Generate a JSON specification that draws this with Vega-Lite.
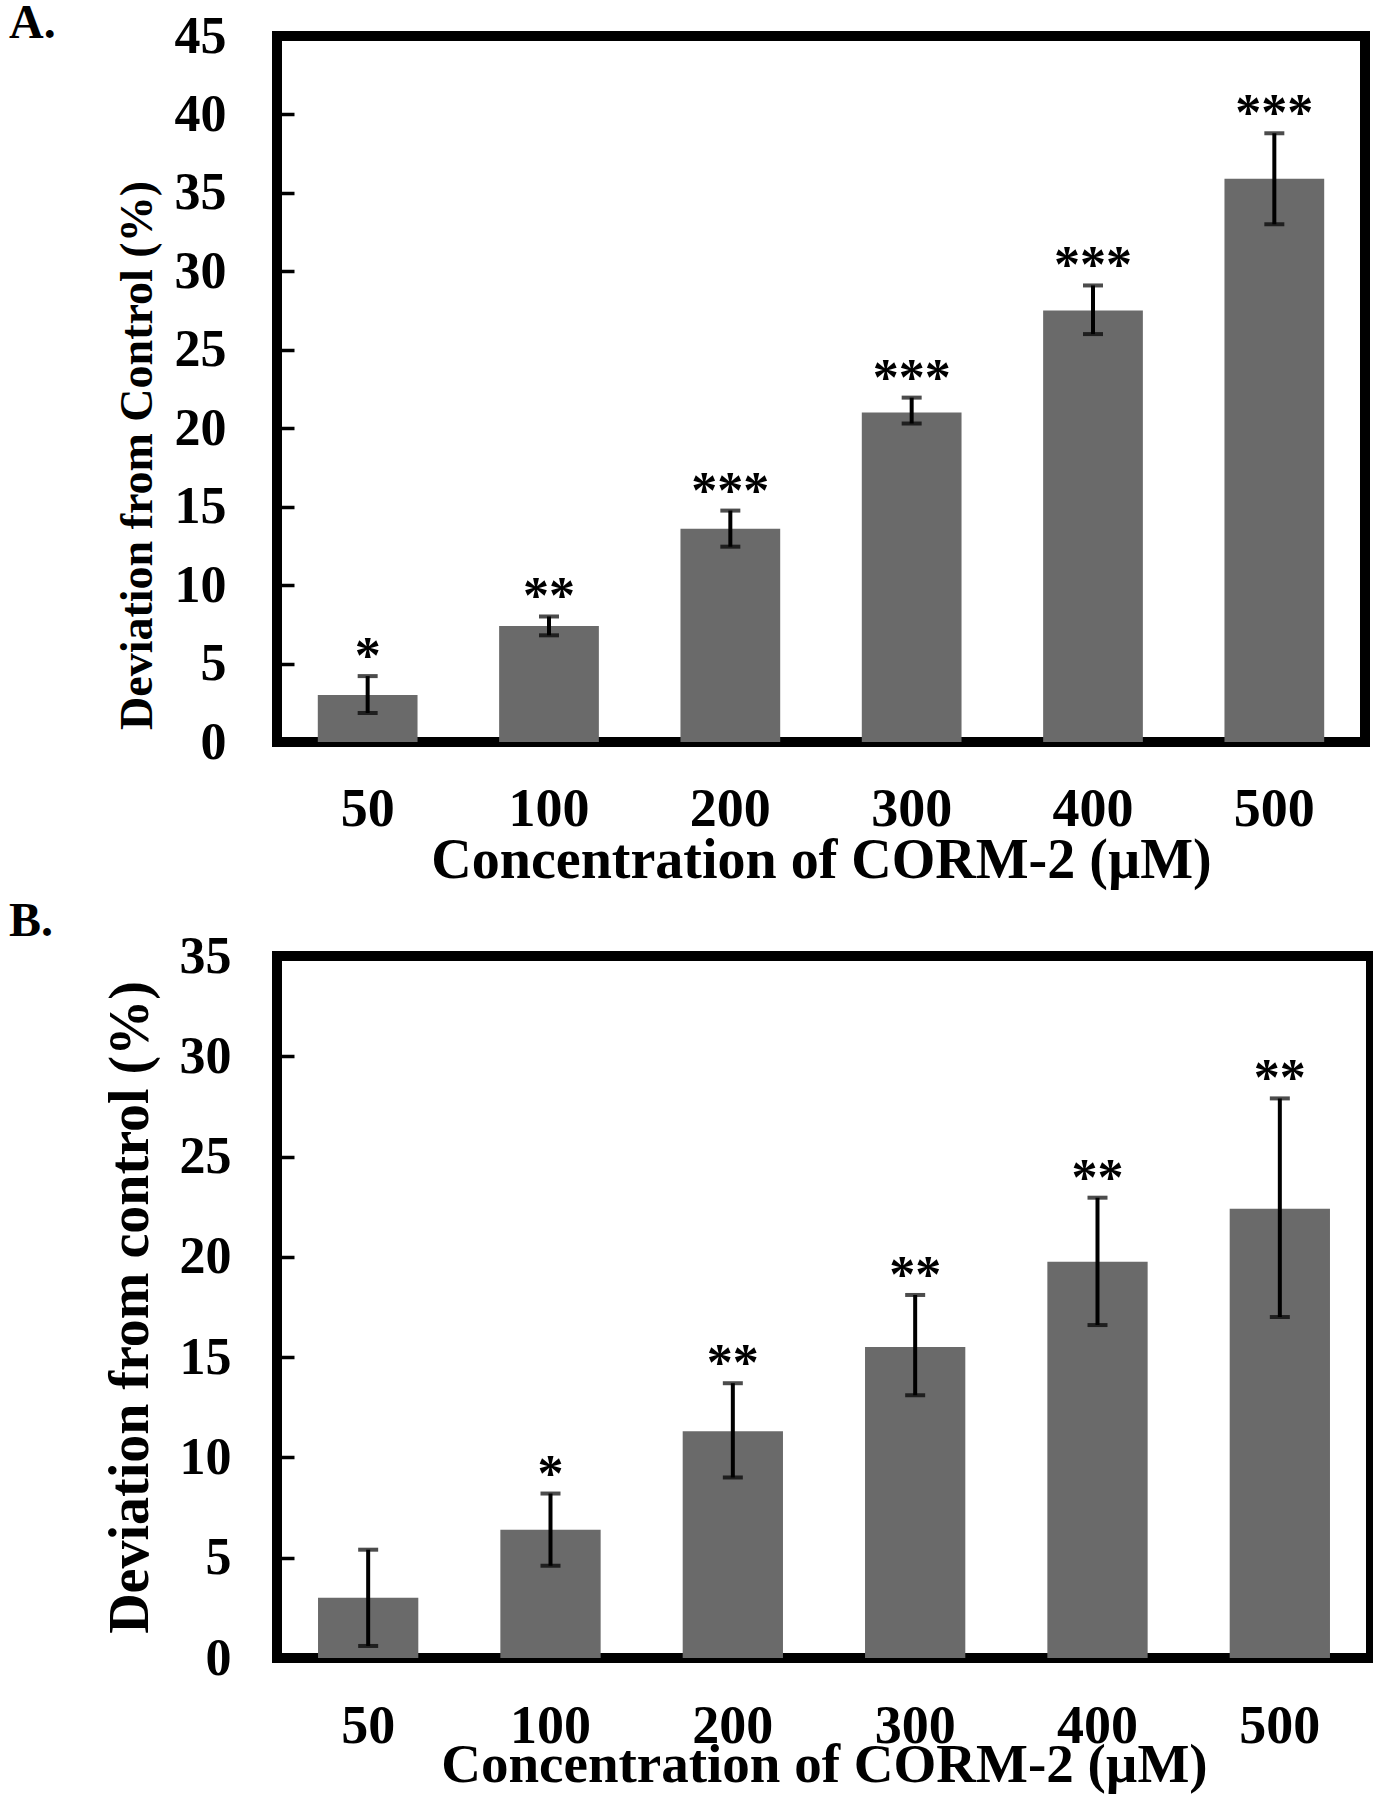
{
  "$schema": "https://vega.github.io/schema/vega-lite/v6.json",
  "background": "white",
  "padding": {"left": 4, "top": -5, "right": 0, "bottom": 0},
  "spacing": 0,
  "config": {
    "view": {"stroke": "black", "strokeWidth": 10},
    "font": "Liberation Serif",
    "axis": {
      "labelFont": "Liberation Serif", "titleFont": "Liberation Serif",
      "labelFontWeight": "bold", "titleFontWeight": "bold",
      "labelColor": "black", "titleColor": "black",
      "domain": false, "grid": false
    },
    "axisX": {"ticks": false, "tickSize": 0, "labelAngle": 0, "labelFontSize": 54, "labelBaseline": "alphabetic", "titleBaseline": "alphabetic"},
    "axisY": {"ticks": true, "offset": -17, "tickSize": 17, "tickWidth": 3.5, "tickColor": "black", "labelFontSize": 52, "titleBaseline": "middle"},
    "title": {"font": "Liberation Serif", "fontWeight": "bold", "color": "black", "fontSize": 48}
  },
  "vconcat": [
    {
      "width": 1088,
      "height": 706,
      "title": {"text": "A.", "anchor": "start", "frame": "group", "dx": -268, "offset": -76, "baseline": "alphabetic"},
      "data": {"values": [
        {"conc": 50, "mean": 3.0, "lo": 1.85, "hi": 4.2, "sig": "*"},
        {"conc": 100, "mean": 7.4, "lo": 6.8, "hi": 8.0, "sig": "**"},
        {"conc": 200, "mean": 13.6, "lo": 12.45, "hi": 14.75, "sig": "***"},
        {"conc": 300, "mean": 21.0, "lo": 20.3, "hi": 21.95, "sig": "***"},
        {"conc": 400, "mean": 27.5, "lo": 26.0, "hi": 29.1, "sig": "***"},
        {"conc": 500, "mean": 35.9, "lo": 33.0, "hi": 38.8, "sig": "***"}
      ]},
      "encoding": {
        "x": {"field": "conc", "type": "ordinal", "title": "Concentration of CORM-2 (µM)",
              "scale": {"paddingInner": 0.45, "paddingOuter": 0.225},
              "axis": {"labelPadding": 83, "titleY": 135, "titleFontSize": 56}}
      },
      "layer": [
        {
          "mark": {"type": "bar", "color": "#6a6a6a"},
          "encoding": {
            "y": {"field": "mean", "type": "quantitative", "title": "Deviation from Control  (%)",
                  "scale": {"domain": [0, 45], "nice": false},
                  "axis": {"values": [0, 5, 10, 15, 20, 25, 30, 35, 40, 45], "labelPadding": 51, "titleFontSize": 46, "titleX": -157, "titleY": 419}}
          }
        },
        {
          "mark": {"type": "errorbar", "color": "black", "thickness": 4, "size": 20, "ticks": true},
          "encoding": {
            "y": {"field": "lo", "type": "quantitative", "title": "Deviation from Control  (%)"},
            "y2": {"field": "hi"}
          }
        },
        {
          "mark": {"type": "text", "font": "Liberation Serif", "fontWeight": "bold", "fontSize": 52, "baseline": "alphabetic", "dy": -3, "color": "black"},
          "encoding": {
            "y": {"field": "hi", "type": "quantitative", "title": "Deviation from Control  (%)"},
            "text": {"field": "sig"}
          }
        }
      ]
    },
    {
      "width": 1094,
      "height": 702,
      "title": {"text": "B.", "anchor": "start", "frame": "group", "dx": -268, "offset": -54, "baseline": "alphabetic"},
      "data": {"values": [
        {"conc": 50, "mean": 3.0, "lo": 0.6, "hi": 5.4, "sig": ""},
        {"conc": 100, "mean": 6.4, "lo": 4.6, "hi": 8.2, "sig": "*"},
        {"conc": 200, "mean": 11.3, "lo": 9.0, "hi": 13.7, "sig": "**"},
        {"conc": 300, "mean": 15.5, "lo": 13.1, "hi": 18.1, "sig": "**"},
        {"conc": 400, "mean": 19.75, "lo": 16.6, "hi": 22.95, "sig": "**"},
        {"conc": 500, "mean": 22.4, "lo": 17.0, "hi": 27.9, "sig": "**"}
      ]},
      "encoding": {
        "x": {"field": "conc", "type": "ordinal", "title": "Concentration of CORM-2 (µM)",
              "scale": {"paddingInner": 0.45, "paddingOuter": 0.225},
              "axis": {"labelPadding": 84, "titleY": 123, "titleFontSize": 55}}
      },
      "layer": [
        {
          "mark": {"type": "bar", "color": "#6a6a6a"},
          "encoding": {
            "y": {"field": "mean", "type": "quantitative", "title": "Deviation from control (%)",
                  "scale": {"domain": [0, 35], "nice": false},
                  "axis": {"values": [0, 5, 10, 15, 20, 25, 30, 35], "labelPadding": 46, "titleFontSize": 56, "titleX": -164, "titleY": 351}}
          }
        },
        {
          "mark": {"type": "errorbar", "color": "black", "thickness": 4, "size": 20, "ticks": true},
          "encoding": {
            "y": {"field": "lo", "type": "quantitative", "title": "Deviation from control (%)"},
            "y2": {"field": "hi"}
          }
        },
        {
          "mark": {"type": "text", "font": "Liberation Serif", "fontWeight": "bold", "fontSize": 52, "baseline": "alphabetic", "dy": -3, "color": "black"},
          "encoding": {
            "y": {"field": "hi", "type": "quantitative", "title": "Deviation from control (%)"},
            "text": {"field": "sig"}
          }
        }
      ]
    }
  ]
}
